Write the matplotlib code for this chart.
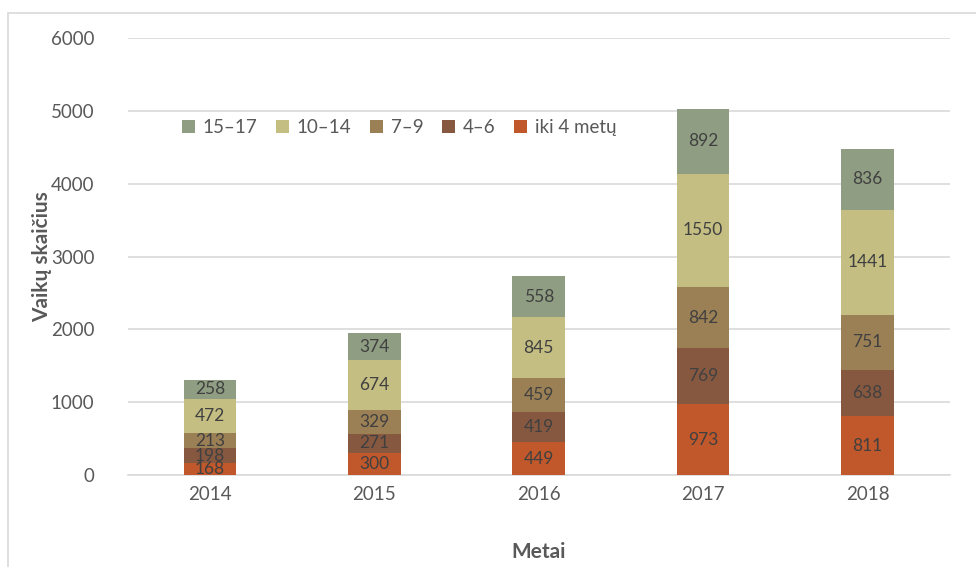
import numpy as np
import matplotlib.pyplot as plt
from matplotlib.patches import Rectangle

plt.rcParams['font.family'] = ['Lato', 'DejaVu Sans']

metai = ['2014', '2015', '2016', '2017', '2018']
iki4 = [168, 300, 449, 973, 811]
m4_6 = [198, 271, 419, 769, 638]
m7_9 = [213, 329, 459, 842, 751]
m10_14 = [472, 674, 845, 1550, 1441]
m15_17 = [258, 374, 558, 892, 836]

series = [('iki 4 metų', iki4, '#C0582B'),
          ('4–6', m4_6, '#875840'),
          ('7–9', m7_9, '#9C8055'),
          ('10–14', m10_14, '#C4BE83'),
          ('15–17', m15_17, '#8F9E82')]

fig = plt.figure(figsize=(9.76, 5.67), dpi=100)
ax = fig.add_axes([0.131, 0.162, 0.842, 0.771])

# rėmelis aplink diagramą
fig.patches.append(Rectangle((8 / 976, -0.1), 1.1, 1 - 13 / 567 + 0.1,
                             transform=fig.transFigure, fill=False,
                             edgecolor='#D9D9D9', linewidth=1.2))

x = np.arange(len(metai))
bottom = np.zeros(len(metai))
bars = {}
for name, vals, col in series:
    b = ax.bar(x, vals, width=0.32, bottom=bottom, color=col, label=name, zorder=3)
    for xi, v, bt in zip(x, vals, bottom):
        ax.text(xi, bt + v / 2, str(v), ha='center', va='center',
                fontsize=12.5, color='#404040', zorder=4)
    bottom = bottom + np.array(vals)
    bars[name] = b

ax.set_xlim(-0.5, 4.5)
ax.set_ylim(0, 6000)
ax.set_yticks(range(0, 6001, 1000))
ax.set_xticks(x)
ax.set_xticklabels(metai)
ax.yaxis.grid(True, color='#D9D9D9', linewidth=1.2, zorder=0)
for s in ['top', 'right', 'left']:
    ax.spines[s].set_visible(False)
ax.spines['bottom'].set_color('#D9D9D9')
ax.spines['bottom'].set_linewidth(1.2)
ax.tick_params(length=0, labelsize=13.5, colors='#595959', pad=8)
ax.tick_params(axis='y', pad=24)

ax.set_xlabel('Metai', fontsize=15, fontweight='bold', color='#595959', labelpad=28)
ax.set_ylabel('Vaikų skaičius', fontsize=15, fontweight='bold', color='#595959', labelpad=-1)

handles = [bars[n] for n in ['15–17', '10–14', '7–9', '4–6', 'iki 4 metų']]
labels = ['15–17', '10–14', '7–9', '4–6', 'iki 4 metų']
leg = ax.legend(handles, labels, loc='upper left', bbox_to_anchor=(0.05, 0.845),
                ncol=5, frameon=True, fontsize=13.5, handlelength=0.7,
                handleheight=0.7, handletextpad=0.4, columnspacing=1.0,
                borderpad=0.2, labelcolor='#595959')
leg.get_frame().set_edgecolor('white')
leg.get_frame().set_facecolor('white')
leg.get_frame().set_alpha(1)

plt.savefig('out.png', dpi=100)
